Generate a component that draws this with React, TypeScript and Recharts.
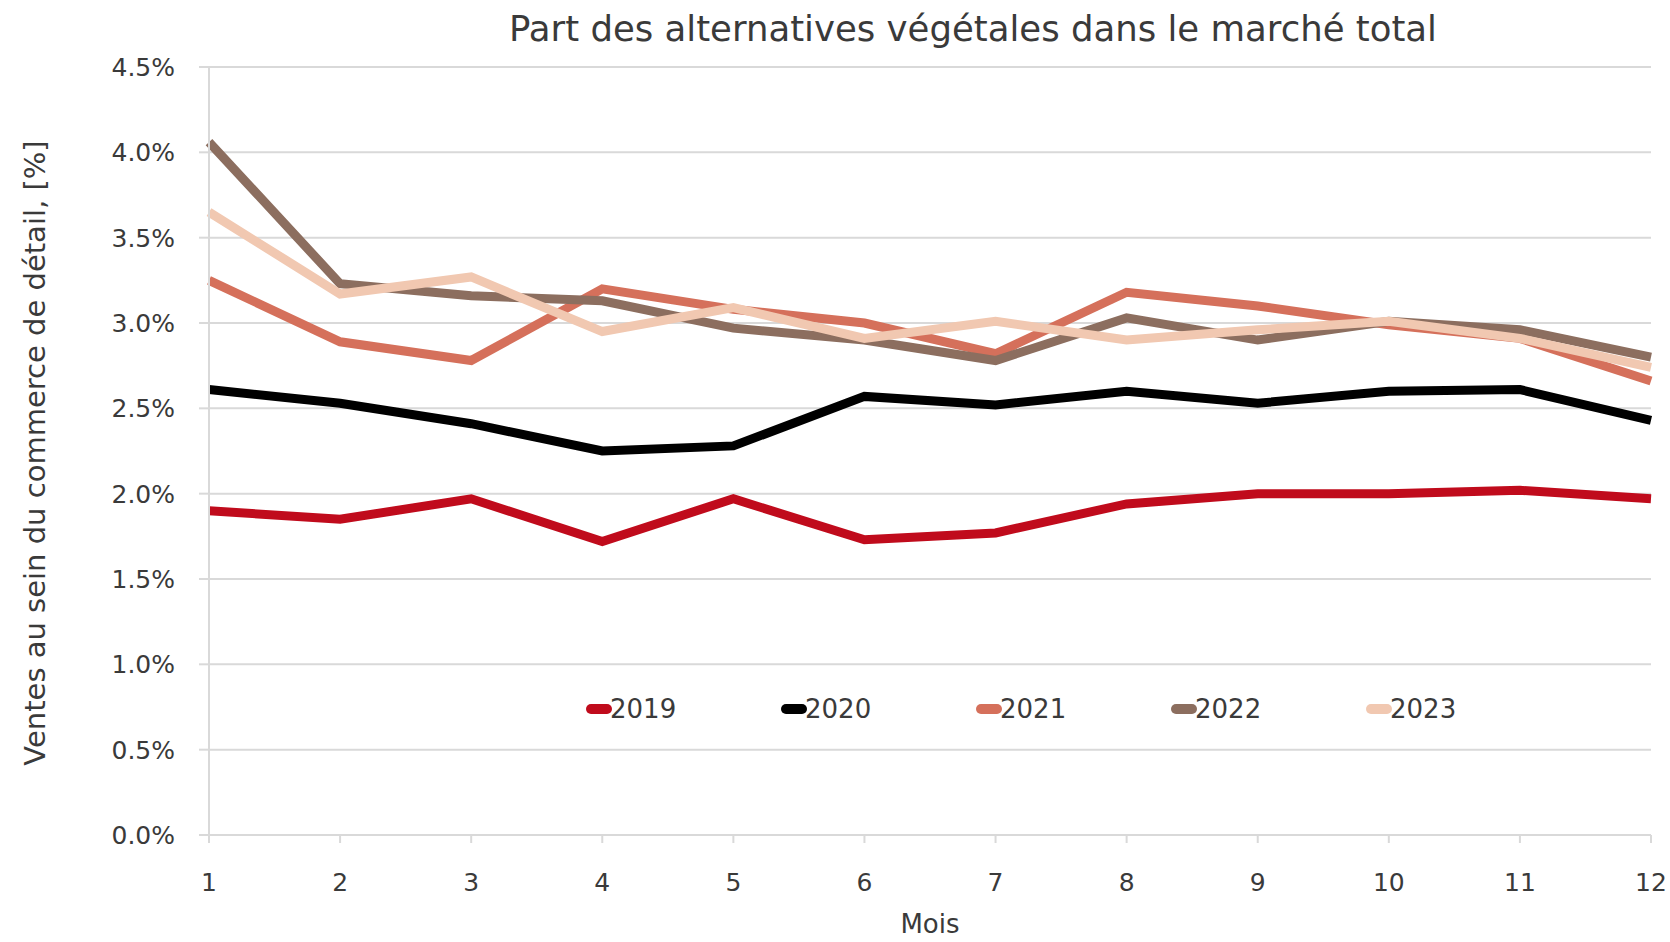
import React from 'react';
import { LineChart, Line, XAxis, YAxis, CartesianGrid } from 'recharts';

// Part des alternatives végétales - ventes mensuelles, 2019-2023

const months = [1, 2, 3, 4, 5, 6, 7, 8, 9, 10, 11, 12];

const y2019 = [1.9, 1.85, 1.97, 1.72, 1.97, 1.73, 1.77, 1.94, 2.0, 2.0, 2.02, 1.97];
const y2020 = [2.61, 2.53, 2.41, 2.25, 2.28, 2.57, 2.52, 2.6, 2.53, 2.6, 2.61, 2.43];
const y2021 = [3.25, 2.89, 2.78, 3.2, 3.08, 3.0, 2.82, 3.18, 3.1, 2.99, 2.91, 2.66];
const y2022 = [4.06, 3.23, 3.16, 3.13, 2.97, 2.9, 2.78, 3.03, 2.9, 3.01, 2.96, 2.8];
const y2023 = [3.65, 3.17, 3.27, 2.95, 3.09, 2.91, 3.01, 2.9, 2.96, 3.01, 2.91, 2.74];

const yTicks = [0, 0.5, 1, 1.5, 2, 2.5, 3, 3.5, 4, 4.5];

const series = [
  { key: 'y2019', label: '2019', color: '#c00b1c', values: y2019 },
  { key: 'y2020', label: '2020', color: '#000000', values: y2020 },
  { key: 'y2021', label: '2021', color: '#d5705b', values: y2021 },
  { key: 'y2022', label: '2022', color: '#8c6e5f', values: y2022 },
  { key: 'y2023', label: '2023', color: '#f1c8b1', values: y2023 },
];

const data = months.map((m, i) => {
  const row: Record<string, number> = { month: m };
  series.forEach((s) => {
    row[s.key] = s.values[i];
  });
  return row;
});

const FONT = '"DejaVu Sans", sans-serif';
const TEXT = '#3a3a3a';
const GRID = '#d9d9d9';

function LegendRow() {
  return (
    <div
      style={{
        position: 'absolute',
        left: 586,
        top: 694,
        display: 'flex',
        fontFamily: FONT,
        fontSize: 26,
        color: TEXT,
      }}
    >
      {series.map((s) => (
        <div key={s.key} style={{ width: 195, display: 'flex', alignItems: 'center' }}>
          <span
            style={{
              display: 'inline-block',
              width: 26,
              height: 10,
              borderRadius: 5,
              background: s.color,
              marginRight: -2,
            }}
          />
          <span>{s.label}</span>
        </div>
      ))}
    </div>
  );
}

export default function App() {
  return (
    <div style={{ position: 'absolute', left: 0, top: 0, width: 1670, height: 942, background: '#fff' }}>
      <div
        style={{
          position: 'absolute',
          left: 252,
          width: 1442,
          top: 8,
          textAlign: 'center',
          fontFamily: FONT,
          fontSize: 35.5,
          color: TEXT,
        }}
      >
        Part des alternatives végétales dans le marché total
      </div>
      <LineChart
        width={1670}
        height={942}
        data={data}
        margin={{ top: 67, right: 19, bottom: 47, left: 0 }}
      >
        <CartesianGrid vertical={false} stroke={GRID} strokeWidth={2} />
        <XAxis
          dataKey="month"
          height={60}
          stroke={GRID}
          strokeWidth={2}
          tickSize={8}
          tickMargin={30}
          tick={{ fill: TEXT, fontSize: 25, fontFamily: FONT }}
          interval={0}
          label={{
            content: () => (
              <text x={930} y={924} textAnchor="middle" dominantBaseline="central" fill={TEXT} fontSize={26} fontFamily={FONT}>
                Mois
              </text>
            ),
          }}
        />
        <YAxis
          width={209}
          domain={[0, 4.5]}
          ticks={yTicks}
          stroke={GRID}
          strokeWidth={2}
          tickSize={10}
          tickMargin={24}
          tick={{ fill: TEXT, fontSize: 25, fontFamily: FONT }}
          tickFormatter={(v: number) => `${v.toFixed(1)}%`}
          label={{
            content: () => (
              <text
                x={35}
                y={453}
                transform="rotate(-90, 35, 453)"
                textAnchor="middle"
                dominantBaseline="central"
                fill={TEXT}
                fontSize={29}
                fontFamily={FONT}
              >
                Ventes au sein du commerce de détail, [%]
              </text>
            ),
          }}
        />
        <YAxis yAxisId="right" orientation="right" width={0} domain={[0, 4.5]} stroke={GRID} strokeWidth={2} tick={false} tickLine={false} />
        {series.map((s) => (
          <Line
            key={s.key}
            dataKey={s.key}
            name={s.label}
            stroke={s.color}
            strokeWidth={9}
            dot={false}
            activeDot={false}
            isAnimationActive={false}
          />
        ))}
      </LineChart>
      <LegendRow />
    </div>
  );
}
